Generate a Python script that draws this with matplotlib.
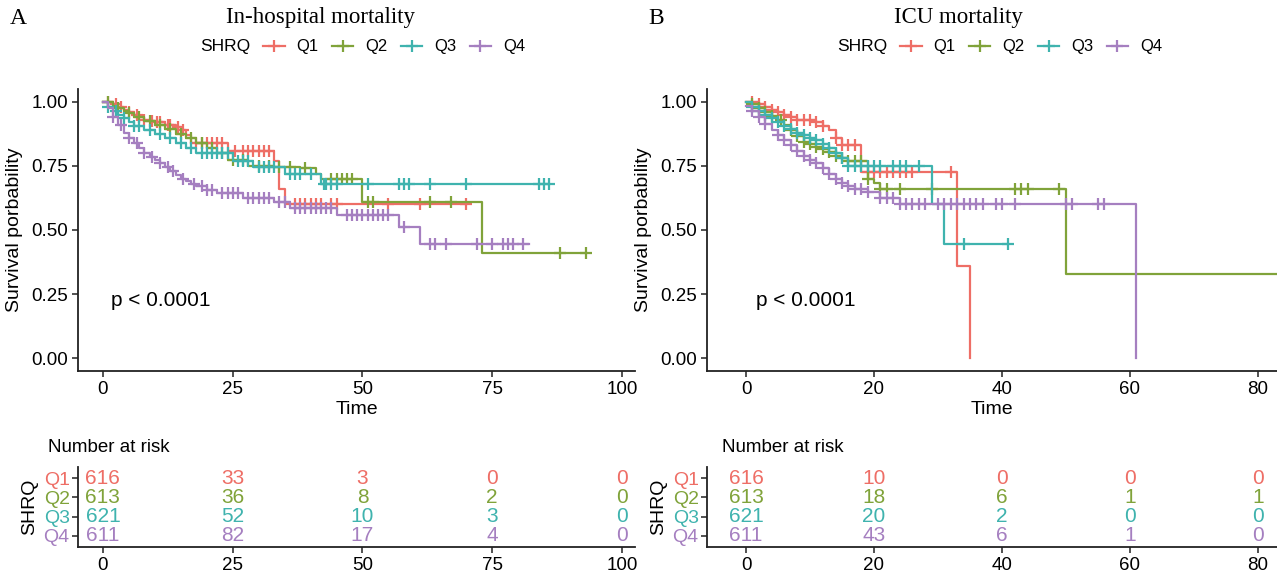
import numpy as np
import matplotlib.pyplot as plt
from matplotlib.lines import Line2D

plt.rcParams['font.family'] = ['Liberation Sans', 'DejaVu Sans']

groups = ['Q1', 'Q2', 'Q3', 'Q4']
colors = ['#EE6E66', '#80A33A', '#3FB3AE', '#A57FC0']

# ---- panel A : in-hospital mortality ----
a_q1_t = [0, 2, 3, 4, 5, 6, 7, 8, 9, 10, 12, 14, 15, 16, 17, 24, 33, 34, 35]
a_q1_s = [1.0, 0.99, 0.98, 0.97, 0.96, 0.95, 0.94, 0.93, 0.925, 0.92, 0.91, 0.90, 0.89, 0.87, 0.84, 0.81, 0.77, 0.66, 0.60]
a_q1_end = 70
a_q1_cens = [1, 2.5, 3.5, 5, 6.5, 8, 9.5, 10.5, 11, 12.5, 13, 14.5, 15.5, 18, 19, 20, 21, 22, 23, 25.5, 27, 28,
             29, 30, 31, 32, 37, 38, 39, 40, 41, 42, 44, 45, 55, 61, 70]

a_q2_t = [0, 2, 3, 4, 5, 6, 8, 10, 12, 14, 16, 18, 20, 22, 24, 28, 33, 38, 41, 42, 50, 73]
a_q2_s = [1.0, 0.985, 0.975, 0.965, 0.955, 0.94, 0.925, 0.91, 0.895, 0.875, 0.86, 0.84, 0.82, 0.80, 0.775, 0.75,
          0.745, 0.74, 0.72, 0.70, 0.61, 0.41]
a_q2_end = 93
a_q2_cens = [1, 3, 5, 7, 9, 11, 13, 15, 17, 19, 21, 23, 25, 27, 30, 32, 34, 36, 39, 44, 45, 46, 47, 48, 51, 52,
             63, 67, 88, 93]

a_q3_t = [0, 1, 2, 3, 4, 5, 6, 8, 10, 12, 14, 16, 18, 25, 29, 35, 42]
a_q3_s = [1.0, 0.98, 0.965, 0.95, 0.935, 0.92, 0.905, 0.89, 0.875, 0.86, 0.84, 0.82, 0.80, 0.77, 0.745, 0.72, 0.68]
a_q3_end = 86
a_q3_cens = [1, 2.5, 4, 6, 7, 9, 11, 13, 15, 17, 19, 20, 21, 22, 23, 24, 26, 27, 28, 30, 31, 32, 33, 36, 37, 38,
             40, 42.5, 43, 44, 45, 51, 57, 58, 59, 63, 70, 84, 85, 86]

a_q4_t = [0, 1, 2, 3, 4, 5, 6, 7, 8, 9, 10, 11, 12, 13, 14, 15, 16, 17, 18, 20, 22, 27, 33, 36, 45, 57, 61]
a_q4_s = [1.0, 0.975, 0.94, 0.91, 0.88, 0.86, 0.84, 0.82, 0.80, 0.785, 0.775, 0.76, 0.745, 0.73, 0.715, 0.70,
          0.69, 0.68, 0.67, 0.655, 0.645, 0.625, 0.61, 0.585, 0.56, 0.51, 0.445]
a_q4_end = 82
a_q4_cens = [2, 3.5, 5, 6.5, 8, 9.5, 11, 12.5, 13.5, 15.5, 17.5, 19, 20, 21, 23, 24, 25, 26, 28, 29, 30, 31, 32,
             34, 35, 37, 38, 39, 40, 41, 42, 43, 44, 47, 48, 49, 50, 51, 52, 53, 54, 55, 58, 63, 64, 66, 72, 75,
             77, 78, 79, 81]

a_risk_times = [0, 25, 50, 75, 100]
a_risk = [[616, 33, 3, 0, 0],
          [613, 36, 8, 2, 0],
          [621, 52, 10, 3, 0],
          [611, 82, 17, 4, 0]]

# ---- panel B : ICU mortality ----
b_q1_t = [0, 2, 3, 4, 5, 6, 7, 8, 11, 12, 13, 14, 15, 18, 33, 35]
b_q1_s = [1.0, 0.99, 0.98, 0.97, 0.96, 0.95, 0.94, 0.93, 0.92, 0.905, 0.89, 0.86, 0.83, 0.725, 0.36, 0.0]
b_q1_end = 35
b_q1_cens = [1, 2, 3, 4, 5, 6, 7, 8, 9, 10, 11, 12, 14, 15, 16, 17, 19, 20, 21, 22, 23, 24, 25, 26, 32]

b_q2_t = [0, 1, 2, 3, 4, 5, 6, 7, 8, 9, 10, 11, 12, 13, 14, 15, 16, 19, 20, 21, 50]
b_q2_s = [1.0, 0.99, 0.975, 0.96, 0.945, 0.93, 0.91, 0.89, 0.865, 0.845, 0.835, 0.825, 0.815, 0.805, 0.79, 0.78,
          0.77, 0.70, 0.685, 0.66, 0.33]
b_q2_end = 90
b_q2_cens = [1, 2, 3, 4, 5.5, 7, 8, 9, 10, 11, 12, 13, 14, 15, 16, 17, 18, 19, 21, 22, 24, 29, 42, 43, 44, 49]

b_q3_t = [0, 1, 2, 3, 4, 5, 6, 7, 8, 9, 10, 11, 12, 13, 14, 15, 16, 29, 31]
b_q3_s = [1.0, 0.98, 0.965, 0.95, 0.935, 0.92, 0.905, 0.895, 0.88, 0.87, 0.86, 0.85, 0.835, 0.82, 0.80, 0.78,
          0.75, 0.60, 0.445]
b_q3_end = 41
b_q3_cens = [1, 2, 3, 4, 5, 6, 7, 8, 9, 10, 11, 12, 13, 14, 15, 16, 17, 18, 19, 20, 21, 23, 24, 25, 27, 34, 41]

b_q4_t = [0, 1, 2, 3, 4, 5, 6, 7, 8, 9, 10, 11, 12, 13, 14, 15, 16, 17, 19, 21, 24, 61]
b_q4_s = [0.985, 0.965, 0.94, 0.915, 0.89, 0.87, 0.85, 0.83, 0.81, 0.79, 0.775, 0.76, 0.74, 0.72, 0.70, 0.685,
          0.67, 0.66, 0.65, 0.625, 0.60, 0.0]
b_q4_end = 61
b_q4_cens = [1, 2, 3, 5, 6, 7, 8, 9, 10, 11, 12, 13, 14, 15, 16, 17, 18, 19, 21, 22, 23, 24, 25, 26, 27, 28, 30,
             31, 32, 33, 34, 35, 36, 37, 39, 40, 42, 50, 51, 55, 56]

b_risk_times = [0, 20, 40, 60, 80]
b_risk = [[616, 10, 0, 0, 0],
          [613, 18, 6, 1, 1],
          [621, 20, 2, 0, 0],
          [611, 43, 6, 1, 0]]

W, H = 1277, 577
fig = plt.figure(figsize=(W / 100, H / 100), dpi=100)


def box(x0, y0, x1, y1):
    """pixel box (left, top, right, bottom) -> figure fraction"""
    return [x0 / W, 1 - y1 / H, (x1 - x0) / W, (y1 - y0) / H]


def style(ax):
    for s in ['top', 'right']:
        ax.spines[s].set_visible(False)
    for s in ['left', 'bottom']:
        ax.spines[s].set_linewidth(1.3)
        ax.spines[s].set_color('#222222')
    ax.tick_params(axis='both', length=4, width=1.1, color='#222222', labelsize=13.5, pad=3)


def km_panel(ax, curves, xlim, xticks):
    for (t, s, end, cens), c in zip(curves, colors):
        tt = list(t) + [end]
        ss = list(s) + [s[-1]]
        ax.step(tt, ss, where='post', color=c, lw=1.6)
        idx = np.searchsorted(t, cens, side='right') - 1
        cy = np.array(s)[idx]
        ax.plot(cens, cy, ls='none', marker='+', ms=8, mew=1.6, color=c)
    ax.set_xlim(*xlim)
    ax.set_ylim(-0.05, 1.05)
    ax.set_xticks(xticks)
    ax.set_yticks([0, 0.25, 0.5, 0.75, 1.0])
    ax.set_yticklabels(['0.00', '0.25', '0.50', '0.75', '1.00'])
    ax.set_xlabel('Time', fontsize=14, labelpad=2)
    ax.set_ylabel('Survival porbability', fontsize=14, labelpad=6)
    ax.text(1.5, 0.225, 'p < 0.0001', fontsize=15, va='center', ha='left')
    style(ax)


def risk_table(ax, times, risk, xlim):
    for i, (row, c) in enumerate(zip(risk, colors)):
        for t, n in zip(times, row):
            ax.text(t, 4 - i, str(n), color=c, fontsize=15, ha='center', va='center')
    ax.set_xlim(*xlim)
    ax.set_ylim(0.4, 4.6)
    ax.set_xticks(times)
    ax.set_yticks([4, 3, 2, 1])
    ax.set_yticklabels(groups)
    style(ax)
    ax.tick_params(axis='y', labelsize=14, pad=2)
    for lab, c in zip(ax.get_yticklabels(), colors):
        lab.set_color(c)
    ax.set_ylabel('SHRQ', fontsize=14, labelpad=4)


# panel A
axA = fig.add_axes(box(78, 89, 635, 371))
km_panel(axA, [(a_q1_t, a_q1_s, a_q1_end, a_q1_cens),
               (a_q2_t, a_q2_s, a_q2_end, a_q2_cens),
               (a_q3_t, a_q3_s, a_q3_end, a_q3_cens),
               (a_q4_t, a_q4_s, a_q4_end, a_q4_cens)],
         (-4.8, 102.5), [0, 25, 50, 75, 100])
tA = fig.add_axes(box(78, 467, 635, 547))
risk_table(tA, a_risk_times, a_risk, (-4.8, 102.5))

# panel B
axB = fig.add_axes(box(707, 89, 1277, 371))
km_panel(axB, [(b_q1_t, b_q1_s, b_q1_end, b_q1_cens),
               (b_q2_t, b_q2_s, b_q2_end, b_q2_cens),
               (b_q3_t, b_q3_s, b_q3_end, b_q3_cens),
               (b_q4_t, b_q4_s, b_q4_end, b_q4_cens)],
         (-6.1, 83.0), [0, 20, 40, 60, 80])
tB = fig.add_axes(box(707, 467, 1277, 547))
risk_table(tB, b_risk_times, b_risk, (-6.1, 83.0))

# titles, panel letters
fig.text(10 / W, 1 - 18 / H, 'A', fontsize=17, family='Liberation Serif', va='center')
fig.text(320 / W, 1 - 18 / H, 'In-hospital mortality', fontsize=16.5, family='Liberation Serif',
         ha='center', va='center')
fig.text(648 / W, 1 - 18 / H, 'B', fontsize=17, family='Liberation Serif', va='center')
fig.text(958 / W, 1 - 18 / H, 'ICU mortality', fontsize=16.5, family='Liberation Serif',
         ha='center', va='center')

# "Number at risk"
fig.text(48 / W, 1 - 447 / H, 'Number at risk', fontsize=13.5, va='center')
fig.text(722 / W, 1 - 447 / H, 'Number at risk', fontsize=13.5, va='center')

# legends
handles = [Line2D([], [], color=c, lw=1.6, marker='+', ms=8, mew=1.6) for c in colors]
for sx, lx in [(200, 263), (837, 900)]:
    fig.text(sx / W, 1 - 47 / H, 'SHRQ', fontsize=12.5, va='center')
    fig.legend(handles, groups, loc='center left', bbox_to_anchor=(lx / W, 1 - 47 / H), ncol=4,
               frameon=False, fontsize=12, handlelength=1.3, handletextpad=0.7, columnspacing=0.8,
               borderaxespad=0, borderpad=0)

fig.savefig('out.png', dpi=100)
